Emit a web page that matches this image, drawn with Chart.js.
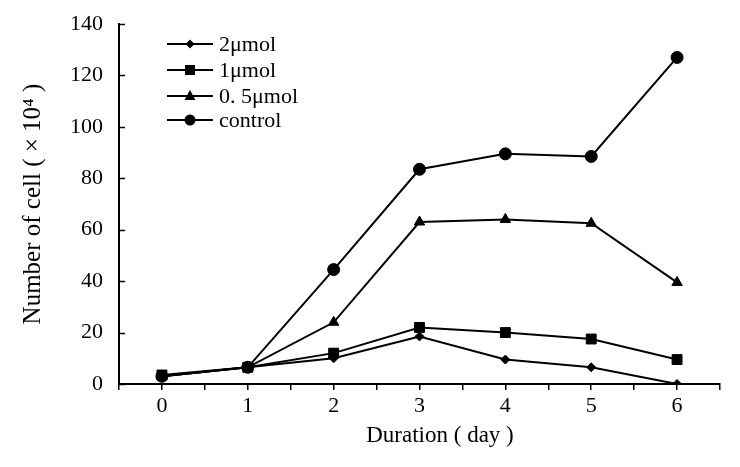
<!DOCTYPE html>
<html>
<head>
<meta charset="utf-8">
<script src="https://cdn.jsdelivr.net/npm/chart.js@4/dist/chart.umd.min.js"></script>
<style>
  body { margin: 0; background: #fff; }
  #wrap { width: 740px; height: 467px; }
</style>
</head>
<body>
<div id="wrap"><canvas id="cells" width="740" height="467"></canvas></div>
<script>
var days = [0, 1, 2, 3, 4, 5, 6];
var seriesNames = ["2\u03bcmol", "1\u03bcmol", "0. 5\u03bcmol", "control"];
var dose2 = [3, 6.5, 10, 18.5, 9.5, 6.5, 0];
var dose1 = [3.5, 6.5, 12, 22, 20, 17.5, 9.5];
var dose05 = [3, 6.5, 24, 63, 64, 62.5, 39.5];
var control = [3, 6.5, 44.5, 83.5, 89.5, 88.5, 127];
var yTicks = [0, 20, 40, 60, 80, 100, 120, 140];
var xTitle = "Duration ( day )";
var yTitle = "Number of cell ( \u00d7 10\u2074 )";

var serif = "'Liberation Serif', 'Times New Roman', serif";

function points(values) {
    return values.map(function (v, i) { return { x: days[i], y: v }; });
}

function makeSet(label, values, style, radius) {
    return {
        label: label,
        data: points(values),
        borderColor: "#000",
        backgroundColor: "#000",
        borderWidth: 2,
        pointStyle: style,
        pointRadius: radius,
        pointHoverRadius: radius,
        pointBorderWidth: 1,
        tension: 0,
    };
}

// legend drawn inside the plot, line with marker in the middle
var insideLegend = {
    id: "insideLegend",
    afterDraw: function (chart) {
        var ctx = chart.ctx;
        var rows = [44, 70, 96, 120];
        ctx.save();
        chart.data.datasets.forEach(function (ds, i) {
            var y = rows[i];
            ctx.strokeStyle = "#000";
            ctx.fillStyle = "#000";
            ctx.lineWidth = 2;
            ctx.beginPath();
            ctx.moveTo(167, y);
            ctx.lineTo(213, y);
            ctx.stroke();
            var cx = 190;
            ctx.beginPath();
            if (ds.pointStyle === "rectRot") {
                ctx.moveTo(cx, y - 4.5); ctx.lineTo(cx + 4.5, y); ctx.lineTo(cx, y + 4.5); ctx.lineTo(cx - 4.5, y);
            } else if (ds.pointStyle === "rect") {
                ctx.rect(cx - 5, y - 5, 10, 10);
            } else if (ds.pointStyle === "triangle") {
                ctx.moveTo(cx, y - 6); ctx.lineTo(cx + 5.5, y + 4); ctx.lineTo(cx - 5.5, y + 4);
            } else {
                ctx.arc(cx, y, 5.5, 0, Math.PI * 2);
            }
            ctx.closePath();
            ctx.fill();
            ctx.font = "22px " + serif;
            ctx.textBaseline = "middle";
            ctx.textAlign = "left";
            ctx.fillText(ds.label, 219, y + 1);
        });
        ctx.restore();
    },
};

// y ticks point into the plot; x title sits a bit right of centre
var axisExtras = {
    id: "axisExtras",
    afterDraw: function (chart) {
        var ctx = chart.ctx;
        var y = chart.scales.y;
        ctx.save();
        ctx.strokeStyle = "#000";
        ctx.lineWidth = 1.5;
        yTicks.forEach(function (v) {
            var py = Math.round(y.getPixelForValue(v)) + 0.5;
            ctx.beginPath();
            ctx.moveTo(y.right, py);
            ctx.lineTo(y.right + 6, py);
            ctx.stroke();
        });
        ctx.fillStyle = "#000";
        ctx.font = "23px " + serif;
        ctx.textAlign = "center";
        ctx.textBaseline = "middle";
        ctx.fillText(xTitle, 440, 436);
        ctx.restore();
    },
};

var cellChart = new Chart(document.getElementById("cells").getContext("2d"), {
    type: "line",
    data: {
        datasets: [
            makeSet(seriesNames[0], dose2, "rectRot", 4.5),
            makeSet(seriesNames[1], dose1, "rect", 7),
            makeSet(seriesNames[2], dose05, "triangle", 6),
            makeSet(seriesNames[3], control, "circle", 6),
        ],
    },
    plugins: [insideLegend, axisExtras],
    options: {
        responsive: false,
        animation: false,
        layout: { padding: { left: 0, top: 24, right: 20, bottom: 0 } },
        plugins: {
            legend: { display: false },
            tooltip: { enabled: false },
        },
        scales: {
            x: {
                type: "linear",
                min: -0.5,
                max: 6.5,
                afterFit: function (scale) {
                    scale.height = 83;
                    scale.paddingLeft = 0;
                    scale.paddingRight = 0;
                },
                afterBuildTicks: function (scale) {
                    var t = [];
                    for (var v = -0.5; v <= 6.5; v += 0.5) t.push({ value: v });
                    scale.ticks = t;
                },
                ticks: {
                    autoSkip: false,
                    maxRotation: 0,
                    padding: 3,
                    color: "#000",
                    font: { family: serif, size: 22 },
                    callback: function (v) {
                        return Number.isInteger(v) && v >= 0 ? String(v) : "";
                    },
                },
                grid: {
                    drawOnChartArea: false,
                    drawTicks: true,
                    tickLength: 6,
                    color: "#000",
                    lineWidth: 1.5,
                },
                border: { display: true, color: "#000", width: 2 },
            },
            y: {
                min: 0,
                max: 140,
                afterFit: function (scale) {
                    scale.width = 119;
                    scale.paddingTop = 0;
                    scale.paddingBottom = 0;
                },
                afterBuildTicks: function (scale) {
                    scale.ticks = yTicks.map(function (v) { return { value: v }; });
                },
                ticks: {
                    padding: 16,
                    color: "#000",
                    font: { family: serif, size: 22 },
                },
                grid: {
                    drawOnChartArea: false,
                    drawTicks: false,
                },
                border: { display: true, color: "#000", width: 2 },
                title: {
                    display: true,
                    text: yTitle,
                    color: "#000",
                    font: { family: serif, size: 25 },
                    padding: { top: 18, bottom: 0 },
                },
            },
        },
    },
});
</script>
</body>
</html>
